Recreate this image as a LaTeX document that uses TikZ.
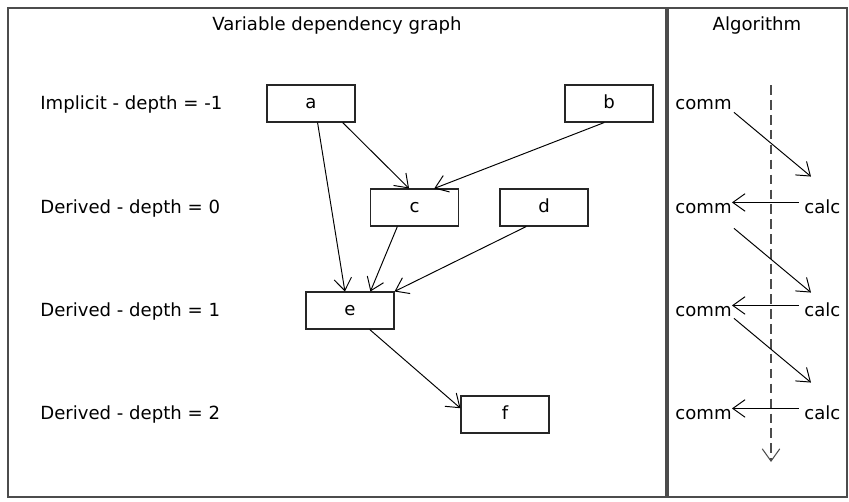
\documentclass[tikz,border=0pt]{standalone}
\usepackage{fontspec}
\setmainfont{DejaVu Sans}
\usetikzlibrary{arrows.meta}

\tikzset{
  every node/.style={font=\fontsize{10.3pt}{12pt}\selectfont},
  panel/.style={draw=black!70, line width=0.8pt},
  var/.style={draw=black!85, line width=0.6pt, minimum width=1.76cm, minimum height=0.74cm,
    text height=5.6pt, text depth=0pt},
  dep/.style={-{Straight Barb[length=7pt,width=10pt]}, line width=0.55pt},
  lvl/.style={anchor=base west, inner sep=0pt},
  alg/.style={anchor=base west, inner sep=0pt, text height=12pt, text depth=0pt},
  timeline/.style={draw=black!70, line width=0.6pt, dash pattern=on 5.5pt off 3pt,
    -{Straight Barb[length=7pt,width=10pt]}},
}

\begin{document}
\begin{tikzpicture}[x=0.02cm, y=-0.02cm]
      \useasboundingbox (0,0) rectangle (849,501);
      \draw[panel] (8,8) rectangle (666,497);
      \draw[panel] (668,8) rectangle (847,497);
      \node[name=title1, anchor=base] at (337,30) {Variable dependency graph};
      \node[name=title2, anchor=base] at (757,30) {Algorithm};

      % depth levels
      \node[name=lvl1, lvl] at (40,109) {Implicit - depth = -1};
      \node[name=lvl2, lvl] at (40,213) {Derived - depth = 0};
      \node[name=lvl3, lvl] at (40,316) {Derived - depth = 1};
      \node[name=lvl4, lvl] at (40,419) {Derived - depth = 2};

      % variables
      \node[name=a, var] at (311,103.5) {a};
      \node[name=b, var] at (609,103.5) {b};
      \node[name=c, var] at (414.5,207.5) {c};
      \node[name=d, var] at (544,207.5) {d};
      \node[name=e, var] at (350,310.5) {e};
      \node[name=f, var] at (505,414.5) {f};
      \draw[dep] (a.-31) -- (c.106);
      \draw[dep] (a.-71) -- (e.105);
      \draw[dep] (b.-104) -- (c.44);
      \draw[dep] (c.-132) -- (e.43);
      \draw[dep] (d.-133) -- (e.north east);
      \draw[dep] (e.-44) -- (f.172);

      % algorithm
      \coordinate (t0) at (771,85);
      \coordinate (t1) at (771,462);
      \draw[timeline] (t0) -- (t1);
      \node[name=comm1, alg] at (675,109) {comm};
      \node[name=comm2, alg] at (675,213) {comm};
      \node[name=comm3, alg] at (675,316) {comm};
      \node[name=comm4, alg] at (675,419) {comm};
      \node[name=calc2, alg] at (804,213) {calc};
      \node[name=calc3, alg] at (804,316) {calc};
      \node[name=calc4, alg] at (804,419) {calc};
      \draw[dep] ([shift={(2,3)}]comm1.south east) -- ([shift={(7,-15)}]calc2.north west);
      \draw[dep, shorten <=3pt] (calc2) -- (comm2);
      \draw[dep] ([shift={(2,15)}]comm2.south east) -- ([shift={(7,-2)}]calc3.north west);
      \draw[dep, shorten <=3pt] (calc3) -- (comm3);
      \draw[dep] ([shift={(2,2)}]comm3.south east) -- ([shift={(7,-15)}]calc4.north west);
      \draw[dep, shorten <=3pt] (calc4) -- (comm4);
\end{tikzpicture}
\end{document}
